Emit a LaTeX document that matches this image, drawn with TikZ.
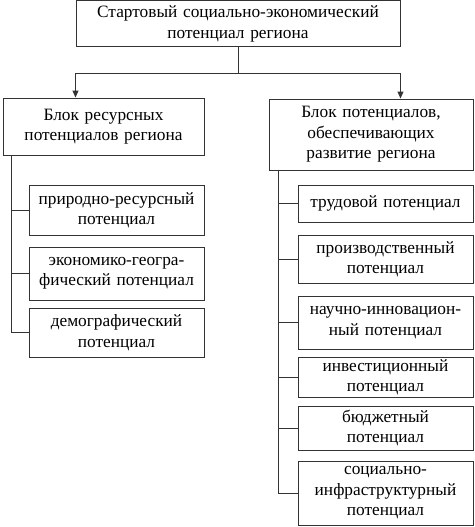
\documentclass[tikz,border=0pt]{standalone}
\usepackage{fontspec}
\setmainfont{Liberation Serif}
\usetikzlibrary{arrows.meta,positioning,calc}

\begin{document}
\begin{tikzpicture}[x=1pt,y=-1pt,
    b/.style={draw=black!80,line width=1pt,align=center,inner sep=0,
      font=\fontsize{17.3}{20.5}\selectfont},
    w175/.style={minimum width=175pt,text width=172pt},
    ln/.style={draw=black!80,line width=1pt},
    arr/.style={ln,-{Triangle[length=7pt,width=6pt]}}]
    \useasboundingbox (0,0) rectangle (474,527);
    \node[b,minimum width=324pt,minimum height=46pt,text width=320pt] (top) at (238,24)
      {Стартовый социально-экономический\\потенциал региона};
    \node[b,minimum width=201pt,minimum height=57pt,text width=198pt] (lblock) at (103.5,126.5)
      {Блок ресурсных\\потенциалов региона};
    \node[b,minimum width=204pt,minimum height=71pt,text width=200pt] (rblock) at (371,134.5)
      {Блок потенциалов,\\обеспечивающих\\развитие региона};
    % left column
    \node[b,w175,minimum height=50pt] (l1) at (116.5,210) {природно-ресурсный\\потенциал};
    \node[b,w175,minimum height=53pt] (l2) at (116.5,273.5) {экономико-геогра-\\фический потенциал};
    \node[b,w175,minimum height=49pt] (l3) at (116.5,332.5) {демографический\\потенциал};
    % right column
    \node[b,w175,minimum height=37pt] (r1) at (385.5,203.5) {трудовой потенциал};
    \node[b,w175,minimum height=48pt] (r2) at (385.5,259) {производственный\\потенциал};
    \node[b,w175,minimum height=53pt] (r3) at (385.5,322.5) {научно-инновацион-\\ный потенциал};
    \node[b,w175,minimum height=40pt] (r4) at (385.5,377) {инвестиционный\\потенциал};
    \node[b,w175,minimum height=44pt] (r5) at (385.5,428) {бюджетный\\потенциал};
    \node[b,w175,minimum height=64pt] (r6) at (385.5,493) {социально-\\инфраструктурный\\потенциал};
    % connectors
    \coordinate (fork) at ($(top.south)+(0,26)$);
    \draw[ln] (top.south) -- (fork);
    \draw[arr] (fork) -| (lblock.north -| top.south west);
    \draw[arr] (fork) -| (rblock.north -| top.south east);
    \coordinate (lt) at ([xshift=9pt]lblock.south west);
    \coordinate (rt) at ([xshift=10pt]rblock.south west);
    \foreach \c in {l1,l2,l3}
      \draw[ln] (lt) |- (\c.west);
    \foreach \c in {r1,r2,r3,r4,r5,r6}
      \draw[ln] (rt) |- (\c.west);
\end{tikzpicture}
\end{document}
